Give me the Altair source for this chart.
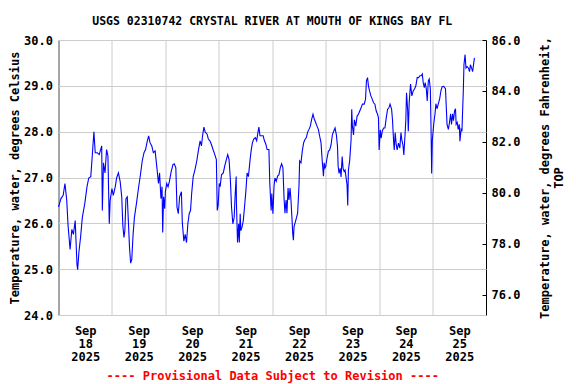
import altair as alt
import pandas as pd

# Hours since 2025-09-18 00:00 and water temperature (deg C)
hours = [
    0.0, 1.1, 2.1, 2.9, 3.7, 4.3, 5.2, 6.0, 6.7, 7.5, 8.3, 8.6, 9.2, 9.9, 10.7, 11.8,
    12.8, 13.6, 14.5, 15.1, 15.9, 16.5, 17.4, 18.3, 19.4, 19.7, 20.2, 20.9, 21.6, 22.2,
    22.8, 23.2,
    24.0, 24.6, 25.5, 26.1, 26.9, 27.7, 28.4, 28.9, 29.4, 29.8, 30.3, 30.9, 31.3, 31.9,
    32.4, 32.9, 33.5, 34.1, 35.0, 35.9, 36.8, 37.6, 38.4, 39.1, 39.9, 40.5, 41.1, 41.9,
    42.6, 43.4, 44.2, 44.9, 45.4, 46.0, 46.5, 46.8, 47.2, 47.7,
    48.0, 48.6, 49.2, 49.8, 50.6, 51.4, 52.0, 52.7, 53.2, 53.8, 54.4, 55.2, 55.6, 56.3,
    56.9, 57.5, 58.1, 58.7, 59.3, 59.8, 60.5, 61.3, 62.1, 62.8, 63.6, 64.2, 64.7, 65.3,
    65.9, 66.7, 67.3, 68.0, 68.6, 69.4, 70.2, 70.9, 71.3, 71.7,
    72.2, 72.6, 73.2, 74.0, 74.8, 75.4, 76.0, 76.6, 77.2, 77.7, 78.3, 78.9, 79.3, 79.8,
    79.9, 80.4, 80.9, 81.2, 81.6, 81.9, 82.4, 83.0, 83.6, 84.2, 84.7, 85.3, 85.9, 86.5,
    87.1, 87.7, 88.4, 89.0, 89.6, 90.0, 90.5, 91.3, 91.9, 92.5, 93.1, 93.7, 94.5, 94.9,
    95.2, 95.5, 95.8,
    96.3, 96.8, 97.2, 97.8, 98.4, 99.0, 99.6, 100.2, 100.8, 101.3, 101.7, 102.2, 102.6,
    103.1, 103.5, 104.0, 104.4, 104.9, 105.2, 105.5, 105.8, 106.2, 106.8, 107.4, 108.0,
    108.3, 108.9, 109.5, 110.1, 110.7, 111.3, 111.9, 112.5, 113.1, 113.7, 114.3, 114.9,
    115.5, 116.1, 116.7, 117.3, 117.9, 118.4, 118.7, 119.0, 119.3, 119.7,
    120.0, 120.6, 121.2, 121.8, 122.4, 123.0, 123.6, 124.2, 124.8, 125.3, 125.6, 126.0,
    126.5, 126.9, 127.4, 127.8, 128.3, 128.7, 129.2, 129.6, 129.9, 130.2, 130.8, 131.4,
    131.7, 132.0, 132.5, 132.9, 133.5, 134.1, 134.7, 135.3, 135.9, 136.5, 137.3, 137.9,
    138.3, 138.8, 139.2, 139.7, 140.3, 140.9, 141.5, 142.1, 142.7, 143.3, 143.7,
    144.0, 144.5, 144.9, 145.4, 146.0, 146.6, 147.2, 147.8, 148.4, 148.9, 149.6, 150.0,
    150.5, 150.8, 151.2, 151.7, 152.1, 152.7, 153.3, 153.8, 154.2, 154.7, 155.1, 155.6,
    156.0, 156.3, 156.8, 157.1, 157.5, 158.1, 158.7, 159.3, 159.9, 160.5, 161.1, 161.7,
    162.3, 162.9, 163.4, 163.8, 164.3, 164.7, 165.2, 165.6, 166.1, 166.5, 167.0, 167.3,
    167.6, 167.9, 168.3,
    168.6, 169.1, 169.5, 170.0, 170.6, 171.2, 171.8, 172.3, 173.0, 173.8, 174.1, 174.5,
    175.1, 175.6, 176.1, 176.5, 177.0, 177.4, 177.9, 178.3, 178.6, 179.1, 179.5, 180.0,
    180.3, 180.8, 181.2, 181.5, 181.8, 182.1, 182.6, 183.0, 183.5, 184.1, 184.6, 185.0,
    185.5, 186.0, 186.5, 186.8,
]
temp_c = [
    26.36, 26.54, 26.61, 26.87, 26.50, 25.95, 25.43, 25.87, 25.76, 26.06, 25.10, 24.99,
    25.39, 25.69, 26.13, 26.43, 26.80, 26.99, 27.02, 27.43, 28.00, 27.54, 27.54, 27.50,
    27.69, 26.28, 27.32, 27.10, 27.61, 27.47, 25.99, 26.50,
    26.76, 26.61, 26.80, 26.99, 27.10, 26.91, 26.58, 25.95, 25.69, 25.84, 26.54, 26.58,
    26.13, 25.47, 25.13, 25.21, 25.76, 26.13, 26.43, 26.76, 27.06, 27.36, 27.54, 27.61,
    27.80, 27.91, 27.76, 27.69, 27.54, 27.58, 27.21, 26.87, 27.10, 26.54, 26.80, 25.80,
    26.58, 26.32,
    26.69, 26.87, 26.80, 26.91, 27.13, 27.28, 27.30, 27.21, 26.36, 26.21, 26.58, 26.69,
    26.02, 25.61, 25.76, 25.58, 25.99, 26.21, 26.28, 26.65, 27.02, 27.17, 27.36, 27.58,
    27.80, 27.69, 27.91, 28.10, 27.99, 27.95, 27.84, 27.80, 27.73, 27.61, 27.50, 27.39,
    26.28, 26.39,
    26.87, 26.80, 27.06, 27.10, 27.28, 27.39, 27.50, 27.39, 26.95, 26.36, 25.99, 26.13,
    26.58, 27.02, 26.47, 25.58, 25.99, 25.58, 26.21, 25.84, 25.91, 26.06, 26.39, 26.73,
    27.10, 27.02, 27.32, 27.58, 27.76, 27.84, 27.87, 27.80, 27.99, 28.10, 27.91, 27.91,
    27.91, 27.80, 27.73, 27.61, 27.61, 26.87, 26.58, 26.28, 26.65,
    26.21, 26.81, 26.99, 26.92, 27.03, 27.06, 27.21, 27.30, 27.21, 26.55, 26.22, 26.51,
    26.22, 26.77, 26.51, 26.77, 26.51, 26.07, 25.78, 25.63, 25.93, 26.00, 26.11, 26.22,
    26.81, 27.36, 27.32, 27.58, 27.76, 27.83, 27.87, 27.99, 28.05, 28.12, 28.27, 28.38,
    28.27, 28.20, 28.12, 28.05, 27.90, 27.76, 27.39, 27.21, 27.03, 27.32, 27.21,
    27.24, 27.42, 27.57, 27.60, 27.71, 27.93, 28.01, 28.08, 27.93, 27.68, 27.24, 27.09,
    27.20, 27.01, 27.46, 27.20, 27.13, 27.16, 26.98, 26.83, 26.39, 27.16, 27.38, 27.82,
    28.49, 28.12, 27.93, 28.26, 28.12, 28.34, 28.38, 28.45, 28.52, 28.60, 28.60, 28.71,
    29.11, 29.18, 29.00, 28.89, 28.78, 28.71, 28.63, 28.60, 28.45, 28.38, 28.30,
    27.60, 28.04, 27.86, 28.01, 28.08, 28.08, 28.30, 28.49, 28.52, 28.60, 28.49, 28.26,
    27.79, 27.60, 27.98, 27.71, 27.60, 27.75, 27.64, 27.98, 27.82, 27.71, 27.49, 27.90,
    28.26, 28.85, 28.49, 28.01, 28.63, 29.04, 28.78, 28.89, 28.93, 29.00, 29.18, 29.18,
    29.22, 29.22, 29.26, 29.07, 28.96, 29.07, 28.93, 28.67, 29.11, 29.15, 28.93, 28.12,
    27.09, 27.82, 28.04,
    28.20, 28.39, 28.61, 28.50, 28.61, 28.72, 28.90, 28.98, 28.99, 28.94, 28.61, 28.16,
    28.05, 28.20, 28.39, 28.16, 28.39, 28.24, 28.46, 28.50, 28.16, 28.20, 28.05, 28.16,
    27.79, 28.05, 28.01, 28.46, 28.87, 29.46, 29.68, 29.39, 29.42, 29.39, 29.31, 29.46,
    29.39, 29.31, 29.50, 29.61,
]

day_ticks = [18, 19, 20, 21, 22, 23, 24, 25]
celsius_ticks = [24, 25, 26, 27, 28, 29, 30]
fahrenheit_ticks = [76, 78, 80, 82, 84, 86]

title_text = "USGS 02310742 CRYSTAL RIVER AT MOUTH OF KINGS BAY FL"
left_title = "Temperature, water, degrees Celsius"
right_title = ["Temperature, water, degrees Fahrenheit,", "TOP"]
footer_text = "---- Provisional Data Subject to Revision ----"

start = pd.Timestamp("2025-09-18 00:00")
df = pd.DataFrame({
    "time": [start + pd.Timedelta(hours=h) for h in hours],
    "temp_c": temp_c,
})
df["temp_f"] = df["temp_c"] * 9 / 5 + 32

FONT = "DejaVu Sans Mono"
W, H = 427.5, 275

x_enc = alt.X(
    "time:T",
    scale=alt.Scale(domain=[alt.DateTime(year=2025, month=9, date=18),
                            alt.DateTime(year=2025, month=9, date=26)]),
    axis=alt.Axis(
        values=[alt.DateTime(year=2025, month=9, date=d) for d in day_ticks],
        labelExpr="[timeFormat(datum.value, '%b'), timeFormat(datum.value, '%d'), timeFormat(datum.value, '%Y')]",
        labelOffset=W / 16,
        labelAlign="center",
        labelBaseline="top",
        labelPadding=10.5,
        labelLineHeight=13,
        labelOverlap=False,
        labelFlush=False,
        labelBound=False,
        ticks=False,
        tickSize=0,
        domain=False,
        grid=True,
        gridColor="#cccccc",
        gridWidth=1,
        title=footer_text,
        titleColor="#ff0000",
        titleX=W / 2,
        titleY=60,
        titleAlign="center",
        titleBaseline="middle",
    ),
)

line = alt.Chart(df).mark_line(color="#0000ff", strokeWidth=1.1).encode(
    x=x_enc,
    y=alt.Y(
        "temp_c:Q",
        scale=alt.Scale(domain=[24, 30], nice=False, zero=False),
        axis=alt.Axis(
            values=celsius_ticks,
            format=".1f",
            ticks=False,
            tickSize=0,
            labelPadding=6,
            domain=False,
            grid=True,
            gridColor="#cccccc",
            gridWidth=1,
            title=left_title,
            titleAngle=270,
            titleX=-44.5,
            titleY=H / 2,
            titleAlign="center",
            titleBaseline="middle",
        ),
    ),
)

right = alt.Chart(df).mark_line(opacity=0).encode(
    x=x_enc,
    y=alt.Y(
        "temp_f:Q",
        scale=alt.Scale(domain=[75.2, 86], nice=False, zero=False),
        axis=alt.Axis(
            orient="right",
            offset=-4,
            values=fahrenheit_ticks,
            format=".1f",
            tickSize=4,
            tickColor="#000000",
            labelPadding=5,
            domain=False,
            grid=False,
            title=right_title,
            titleAngle=270,
            titleX=62,
            titleY=H / 2,
            titleAlign="center",
            titleBaseline="middle",
            titleLineHeight=14,
        ),
    ),
)

chart = alt.layer(line, right).resolve_scale(y="independent").properties(
    width=W,
    height=H,
    autosize=alt.AutoSizeParams(type="none"),
    padding={"left": 50.5, "top": 32, "right": 82, "bottom": 69},
    title=alt.TitleParams(
        text=title_text,
        font=FONT,
        fontSize=11.5,
        fontWeight="bold",
        color="#000000",
        anchor="middle",
        frame="group",
        offset=7,
    ),
).configure_view(
    stroke="#000000", strokeWidth=1
).configure_axis(
    labelFont=FONT, labelFontSize=12, labelFontWeight="bold", labelColor="#000000",
    titleFont=FONT, titleFontSize=12, titleFontWeight="bold", titleColor="#000000",
)

chart.save("out.html", embed_options={"renderer": "svg", "actions": False})
